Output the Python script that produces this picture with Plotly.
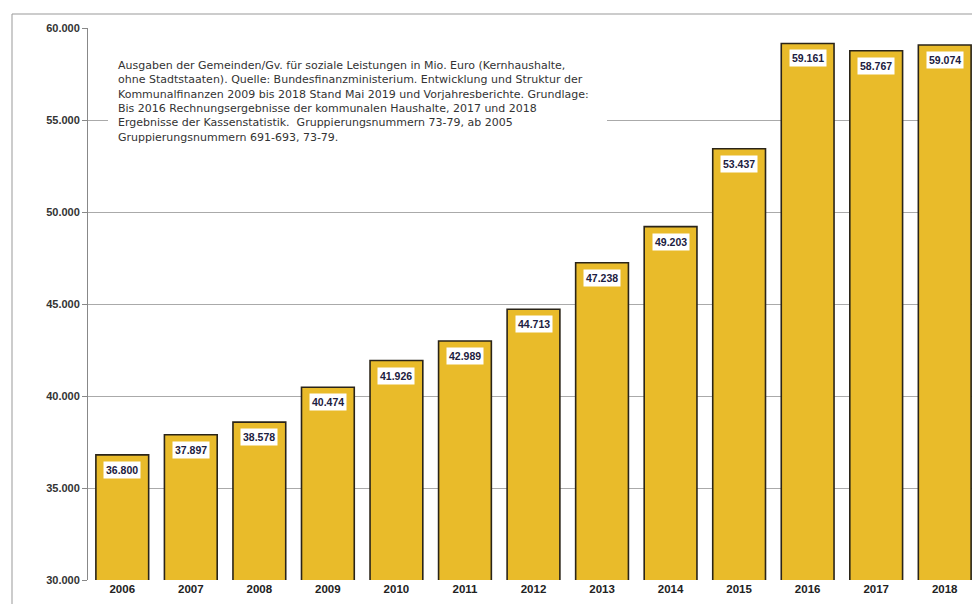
import plotly.graph_objects as go

years = ["2006", "2007", "2008", "2009", "2010", "2011", "2012",
         "2013", "2014", "2015", "2016", "2017", "2018"]
values = [36800, 37897, 38578, 40474, 41926, 42989, 44713,
          47238, 49203, 53437, 59161, 58767, 59074]
tick_vals = [30000, 35000, 40000, 45000, 50000, 55000, 60000]
tick_text = ["30.000", "35.000", "40.000", "45.000", "50.000", "55.000", "60.000"]
note_lines = [
    "Ausgaben der Gemeinden/Gv. für soziale Leistungen in Mio. Euro (Kernhaushalte,",
    "ohne Stadtstaaten). Quelle: Bundesfinanzministerium. Entwicklung und Struktur der",
    "Kommunalfinanzen 2009 bis 2018 Stand Mai 2019 und Vorjahresberichte. Grundlage:",
    "Bis 2016 Rechnungsergebnisse der kommunalen Haushalte, 2017 und 2018",
    "Ergebnisse der Kassenstatistik.  Gruppierungsnummern 73-79, ab 2005",
    "Gruppierungsnummern 691-693, 73-79.",
]

def de(v):
    return f"{v:,}".replace(",", ".")

# plot area geometry (reference pixels) used for paper-coordinate placement
PX0, PX1, PY0, PY1 = 88, 979, 28, 580
def px(x):
    return (x - PX0) / (PX1 - PX0)
def py(y):
    return 1 - (y - PY0) / (PY1 - PY0)

fig = go.Figure()
fig.add_trace(go.Bar(
    x=years, y=values,
    marker=dict(color="#E9BB2A", line=dict(color="#2a2418", width=1.6)),
    hoverinfo="x+y",
))

for i, v in enumerate(values):
    fig.add_annotation(
        x=i, y=v, xref="x", yref="y", text=f"<b>{de(v)}</b>",
        showarrow=False, yanchor="top", yshift=-6,
        bgcolor="white", borderpad=2,
        font=dict(family="Arial, Liberation Sans, sans-serif", size=10.5, color="#1c2040"),
    )

# white text box behind the note
fig.add_shape(type="rect", xref="paper", yref="paper",
              x0=px(108), x1=px(607), y0=py(146), y1=py(54),
              fillcolor="white", line=dict(width=0), layer="above")

fig.add_annotation(
    x=px(117), y=py(58), xref="paper", yref="paper", text="<br>".join(note_lines),
    showarrow=False, xanchor="left", yanchor="top", align="left", borderpad=0,
    font=dict(family="DejaVu Sans, sans-serif", size=11, color="#333333"),
)

# outer frame
fig.add_shape(type="rect", xref="paper", yref="paper",
              x0=px(12), x1=1.05, y0=-0.2, y1=py(14),
              line=dict(color="#999999", width=1), layer="below")

fig.update_layout(
    width=972, height=596,
    margin=dict(l=80, r=1, t=20, b=24),
    paper_bgcolor="white", plot_bgcolor="white",
    bargap=0.23, showlegend=False,
    font=dict(family="Arial, Liberation Sans, sans-serif", color="#333333"),
)
fig.update_xaxes(
    type="category", range=[-0.5, len(years) - 0.5],
    showgrid=False, showline=False, ticks="",
    tickfont=dict(size=11.5, color="#222222"),
    tickprefix="<b>", ticksuffix="</b>",
)
fig.update_yaxes(
    range=[30000, 60000], tickvals=tick_vals, ticktext=[f"<b>{t}</b>" for t in tick_text],
    showgrid=True, gridcolor="#aaaaaa", gridwidth=1,
    showline=True, linecolor="#888888", linewidth=1,
    ticks="outside", ticklen=5, tickcolor="#888888",
    tickfont=dict(size=11, color="#333333"),
    zeroline=False,
)
fig.write_html("out.html")
